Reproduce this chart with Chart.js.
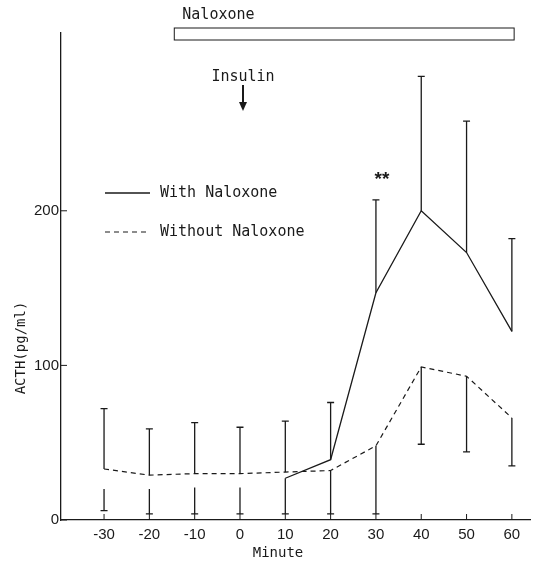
<!DOCTYPE html>
<html>
<head>
<meta charset="utf-8">
<script src="https://cdn.jsdelivr.net/npm/chart.js@4.4.1/dist/chart.umd.min.js"></script>
<style>
html,body{margin:0;padding:0;background:#fff;}
canvas{display:block;}
</style>
</head>
<body>
<canvas id="c" width="539" height="561"></canvas>
<script>
// ---- data ----
const minutes = [-30, -20, -10, 0, 10, 20, 30, 40, 50, 60];
const withNaloxone = [null, null, null, null, 27, 39, 147, 200, 173, 122];
const withoutNaloxone = [33, 29, 30, 30, 31, 32, 48, 99, 93, 66];
// error bars (pg/ml): upper bar from mean to top, lower bar segment
const upperBarFrom = [33, 29, 30, 30, 31, 39, 147, 200, 173, 122];
const upperBarTop = [72, 59, 63, 60, 64, 76, 207, 287, 258, 182];
const lowerBarFrom = [20, 20, 21, 21, 27, 32, 48, 99, 93, 66];
const lowerBarBottom = [6, 4, 4, 4, 4, 4, 4, 49, 44, 35];
const xTicks = [-30, -20, -10, 0, 10, 20, 30, 40, 50, 60];
const yTicks = [0, 100, 200];
const naloxoneSpan = [-14.5, 60.5];
const insulinAt = 0;
const significantAt = 30;

const INK = '#1a1a1a';
const MONO = '"DejaVu Sans Mono", "Liberation Mono", monospace';
const SANS = '"Liberation Sans", Arial, sans-serif';

const toXY = arr => minutes.map((m, i) => ({x: m, y: arr[i]})).filter(p => p.y !== null);

const annot = {
  id: 'annot',
  afterDatasetsDraw(chart) {
    const ctx = chart.ctx;
    const xs = chart.scales.x, ys = chart.scales.y;
    const ca = chart.chartArea;
    ctx.save();
    ctx.strokeStyle = INK;
    ctx.fillStyle = INK;
    ctx.lineWidth = 1.3;
    ctx.setLineDash([]);
    const cap = 3.5;
    // error bars
    minutes.forEach((m, i) => {
      const px = xs.getPixelForValue(m);
      const a = ys.getPixelForValue(upperBarFrom[i]);
      const b = ys.getPixelForValue(upperBarTop[i]);
      ctx.beginPath();
      ctx.moveTo(px, a); ctx.lineTo(px, b);
      ctx.moveTo(px - cap, b); ctx.lineTo(px + cap, b);
      const c = ys.getPixelForValue(lowerBarFrom[i]);
      const d = ys.getPixelForValue(lowerBarBottom[i]);
      ctx.moveTo(px, c); ctx.lineTo(px, d);
      ctx.moveTo(px - cap, d); ctx.lineTo(px + cap, d);
      ctx.stroke();
    });
    // inward tick marks
    ctx.lineWidth = 1;
    ctx.beginPath();
    yTicks.forEach(v => {
      const py = ys.getPixelForValue(v);
      ctx.moveTo(ca.left, py); ctx.lineTo(ca.left + 6, py);
    });
    xTicks.forEach(v => {
      const px = xs.getPixelForValue(v);
      ctx.moveTo(px, ca.bottom); ctx.lineTo(px, ca.bottom - 6);
    });
    ctx.stroke();

    // Naloxone bar
    const nx0 = xs.getPixelForValue(naloxoneSpan[0]);
    const nx1 = xs.getPixelForValue(naloxoneSpan[1]);
    ctx.lineWidth = 1;
    ctx.strokeRect(nx0, 28, nx1 - nx0, 12);
    ctx.font = '15px ' + MONO;
    ctx.textBaseline = 'middle';
    ctx.textAlign = 'left';
    ctx.fillText('Naloxone', nx0 + 8, 15);

    // Insulin arrow
    const ix = xs.getPixelForValue(insulinAt) + 3;
    ctx.textAlign = 'center';
    ctx.fillText('Insulin', ix, 77);
    ctx.lineWidth = 2;
    ctx.beginPath();
    ctx.moveTo(ix, 85); ctx.lineTo(ix, 103);
    ctx.stroke();
    ctx.beginPath();
    ctx.moveTo(ix - 4, 102); ctx.lineTo(ix + 4, 102); ctx.lineTo(ix, 111); ctx.closePath();
    ctx.fill();

    // significance
    ctx.font = 'bold 19px ' + SANS;
    ctx.fillText('**', xs.getPixelForValue(significantAt) + 6, ys.getPixelForValue(upperBarTop[6]) - 20);

    // legend
    ctx.font = '15px ' + MONO;
    ctx.textAlign = 'left';
    const lx0 = 105, lx1 = 150;
    chart.data.datasets.forEach((ds, k) => {
      const ly = k === 0 ? 193 : 232;
      ctx.lineWidth = ds.borderWidth;
      ctx.setLineDash(ds.borderDash || []);
      ctx.beginPath(); ctx.moveTo(lx0, ly); ctx.lineTo(lx1, ly); ctx.stroke();
      ctx.setLineDash([]);
      ctx.fillText(ds.label, 160, ly);
    });

    // axis titles
    ctx.font = '14px ' + MONO;
    ctx.textAlign = 'center';
    ctx.fillText('Minute', 278, 553);
    ctx.save();
    ctx.translate(21, 348);
    ctx.rotate(-Math.PI / 2);
    ctx.fillText('ACTH(pg/ml)', 0, 0);
    ctx.restore();
    ctx.restore();
  }
};

new Chart(document.getElementById('c'), {
  type: 'line',
  data: {
    datasets: [
      {label: 'With Naloxone', data: toXY(withNaloxone), borderColor: INK, borderWidth: 1.3, pointRadius: 0, tension: 0, fill: false},
      {label: 'Without Naloxone', data: toXY(withoutNaloxone), borderColor: INK, borderWidth: 1.2, borderDash: [5, 4], pointRadius: 0, tension: 0, fill: false}
    ]
  },
  options: {
    responsive: false,
    animation: false,
    devicePixelRatio: 1,
    layout: {padding: {top: 33, right: 9, left: 0, bottom: 0}},
    plugins: {legend: {display: false}, tooltip: {enabled: false}},
    scales: {
      x: {
        type: 'linear', min: -39.5, max: 64,
        afterBuildTicks: s => { s.ticks = xTicks.map(v => ({value: v})); },
        afterFit: s => { s.height = 41; },
        grid: {display: false, drawTicks: false, tickLength: 0},
        border: {display: true, color: INK, width: 1.3},
        ticks: {font: {family: SANS, size: 15}, color: INK, padding: 6, maxRotation: 0, autoSkip: false}
      },
      y: {
        min: 0, max: 315,
        afterBuildTicks: s => { s.ticks = yTicks.map(v => ({value: v})); },
        afterFit: s => { s.width = 61; },
        grid: {display: false, drawTicks: false, tickLength: 0},
        border: {display: true, color: INK, width: 1.3},
        ticks: {font: {family: SANS, size: 15}, color: INK, padding: 2}
      }
    }
  },
  plugins: [annot]
});
</script>
</body>
</html>
